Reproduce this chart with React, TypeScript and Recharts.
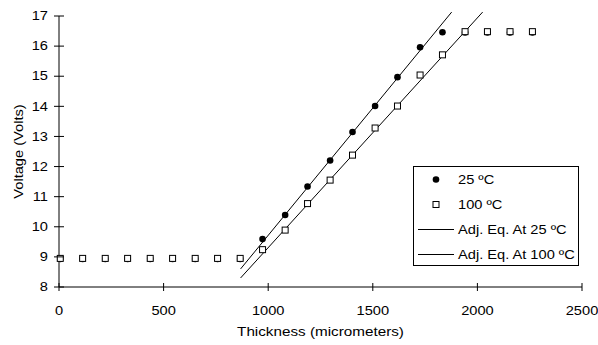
import { ScatterChart, Scatter, XAxis, YAxis, ReferenceLine, Legend, Label } from 'recharts';

// thickness in micrometers, one entry per measurement
const THICKNESS = [6, 113, 221, 328, 436, 543, 651, 758, 866, 973, 1081, 1188, 1296, 1403, 1511, 1618, 1726, 1833, 1941, 2048, 2156, 2263];
const V_25 = [8.93, 8.93, 8.93, 8.93, 8.93, 8.93, 8.93, 8.93, 8.93, 9.59, 10.39, 11.34, 12.2, 13.15, 14.01, 14.97, 15.96, 16.46, 16.45, 16.45, 16.45, 16.45];
const V_100 = [8.95, 8.95, 8.95, 8.95, 8.95, 8.95, 8.95, 8.95, 8.95, 9.24, 9.89, 10.77, 11.55, 12.38, 13.28, 14.01, 15.04, 15.71, 16.48, 16.48, 16.48, 16.48];

// fitted lines: two end points each
const FIT_25_X = [868, 1877];
const FIT_25_Y = [8.6, 17.13];
const FIT_100_X = [868, 2025];
const FIT_100_Y = [8.3, 17.13];

const X_TICKS = [0, 500, 1000, 1500, 2000, 2500];
const Y_TICKS = [8, 9, 10, 11, 12, 13, 14, 15, 16, 17];

const LEGEND_LABELS = ['25 ºC', '100 ºC', 'Adj. Eq. At 25 ºC', 'Adj. Eq. At 100 ºC'];

const FONT = 'Arial, "Liberation Sans", sans-serif';
const SX = 1.22; // the original text is drawn wide

const pts25 = THICKNESS.map((x, i) => ({ x, y: V_25[i] }));
const pts100 = THICKNESS.map((x, i) => ({ x, y: V_100[i] }));

function WideText({ x, y, anchor = 'start', rotate = 0, size = 12, children }: any) {
  const t = `translate(${x},${y})${rotate ? ` rotate(${rotate})` : ''} scale(${SX},1)`;
  return (
    <text transform={t} textAnchor={anchor} fontSize={size} fontFamily={FONT} fill="#000" dy="0.35em">
      {children}
    </text>
  );
}

const Y_TICK_SIZE = 5;
const Y_TICK_MARGIN = 6;
const X_TICK_SIZE = 5;
const X_TICK_MARGIN = 19;

function YTick({ x, y, payload }: any) {
  const ax = x + Y_TICK_SIZE + Y_TICK_MARGIN;
  return (
    <g>
      <line x1={ax - 5} x2={ax + 5} y1={y} y2={y} stroke="#000" />
      <WideText x={x} y={y} anchor="end">{payload.value}</WideText>
    </g>
  );
}

function XTick({ x, y, payload }: any) {
  const ay = y - X_TICK_SIZE - X_TICK_MARGIN;
  return (
    <g>
      <line x1={x} x2={x} y1={ay - 4} y2={ay + 4} stroke="#000" />
      <WideText x={x} y={y} anchor="middle">{payload.value}</WideText>
    </g>
  );
}

const Dot = ({ cx, cy }: any) => <circle cx={cx} cy={cy} r={3.3} fill="#000" />;
const Box = ({ cx, cy }: any) => (
  <rect x={cx - 3} y={cy - 3} width={6} height={6} fill="#fff" stroke="#000" strokeWidth={1} />
);

function LegendBox() {
  const rows = [13.5, 38.5, 63.5, 88.5];
  return (
    <svg width={167} height={100} style={{ display: 'block' }}>
      <rect x={0.5} y={0.5} width={165} height={99} fill="#fff" stroke="#000" />
      <circle cx={23} cy={rows[0]} r={3.3} fill="#000" />
      <rect x={20} y={rows[1] - 3} width={6} height={6} fill="#fff" stroke="#000" />
      <line x1={5} x2={41} y1={rows[2]} y2={rows[2]} stroke="#000" />
      <line x1={5} x2={41} y1={rows[3]} y2={rows[3]} stroke="#000" />
      {LEGEND_LABELS.map((l, i) => (
        <WideText key={l} x={45} y={rows[i]}>{l}</WideText>
      ))}
    </svg>
  );
}

export default function App() {
  return (
    <div style={{ position: 'absolute', left: 0, top: 0, background: '#fff' }}>
      <ScatterChart width={598} height={345} margin={{ top: 16, right: 16, bottom: 0, left: 0 }}>
        <XAxis
          type="number"
          dataKey="x"
          domain={[0, 2500]}
          ticks={X_TICKS}
          height={58}
          tickSize={X_TICK_SIZE}
          tickMargin={X_TICK_MARGIN}
          tickLine={false}
          tick={<XTick />}
          axisLine={{ stroke: '#000' }}
        >
          <Label
            content={({ viewBox }: any) => (
              <WideText x={viewBox.x + viewBox.width / 2} y={viewBox.y + 45} anchor="middle" size={12.5}>
                Thickness (micrometers)
              </WideText>
            )}
          />
        </XAxis>
        <YAxis
          type="number"
          dataKey="y"
          domain={[8, 17]}
          ticks={Y_TICKS}
          width={59}
          tickSize={Y_TICK_SIZE}
          tickMargin={Y_TICK_MARGIN}
          tickLine={false}
          tick={<YTick />}
          axisLine={{ stroke: '#000' }}
        >
          <Label
            content={({ viewBox }: any) => (
              <WideText x={19} y={viewBox.y + viewBox.height / 2} anchor="middle" rotate={-90}>
                Voltage (Volts)
              </WideText>
            )}
          />
        </YAxis>
        <ReferenceLine
          segment={[{ x: FIT_25_X[0], y: FIT_25_Y[0] }, { x: FIT_25_X[1], y: FIT_25_Y[1] }]}
          stroke="#000"
          ifOverflow="visible"
        />
        <ReferenceLine
          segment={[{ x: FIT_100_X[0], y: FIT_100_Y[0] }, { x: FIT_100_X[1], y: FIT_100_Y[1] }]}
          stroke="#000"
          ifOverflow="visible"
        />
        <Scatter name="25 ºC" data={pts25} shape={<Dot />} isAnimationActive={false} />
        <Scatter name="100 ºC" data={pts100} shape={<Box />} isAnimationActive={false} />
        <Legend
          layout="horizontal"
          verticalAlign="middle"
          align="center"
          content={() => <LegendBox />}
          wrapperStyle={{ left: 413, top: 166, width: 167, height: 100 }}
        />
      </ScatterChart>
    </div>
  );
}
